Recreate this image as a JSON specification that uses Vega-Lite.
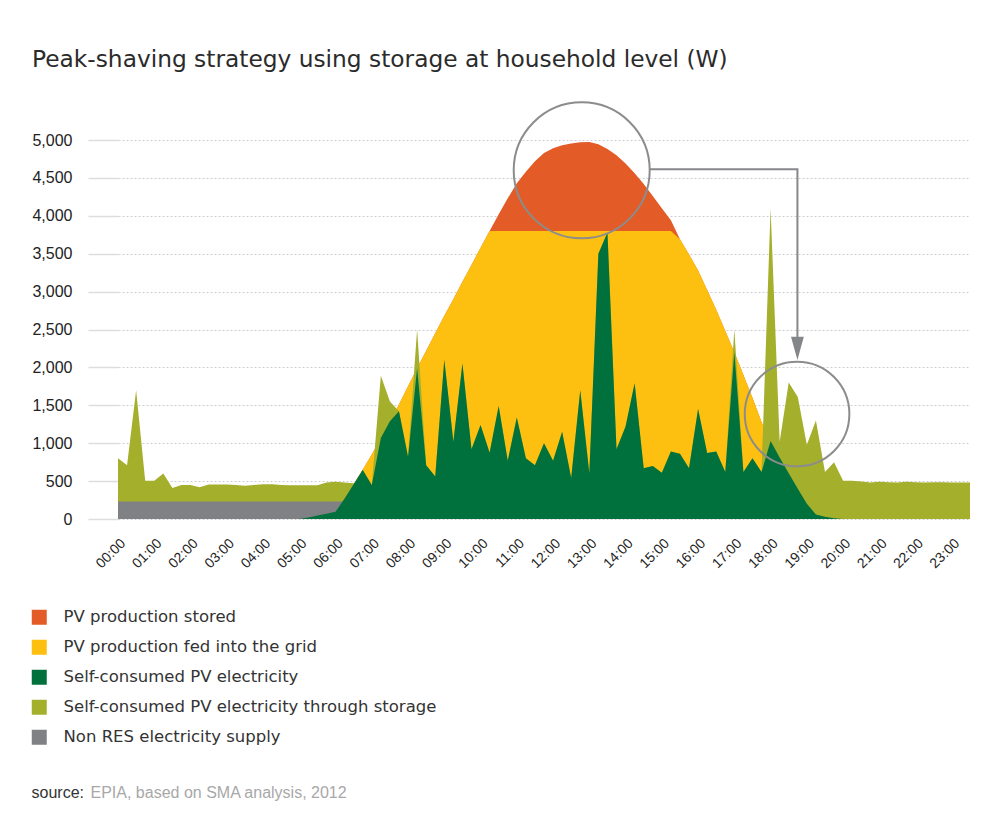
{
"$schema": "https://vega.github.io/schema/vega-lite/v6.json",
"width": 852, "height": 379,
"autosize": {"type": "none"},
"padding": {"left": 118, "top": 140, "right": 30, "bottom": 301},
"background": "white",
"title": {"text": "Peak-shaving strategy using storage at household level (W)", "anchor": "start", "frame": "group", "dx": -86, "offset": 8, "baseline": "alphabetic", "font": "DejaVu Sans", "fontSize": 23.3, "fontWeight": "normal", "color": "#2b2b2b"},
"datasets": {
"d": [
{"t":0,"pv":0,"grid":0,"load":800,"self":0,"nonres":230},
{"t":0.25,"pv":0,"grid":0,"load":710,"self":0,"nonres":230},
{"t":0.5,"pv":0,"grid":0,"load":1700,"self":0,"nonres":230},
{"t":0.75,"pv":0,"grid":0,"load":505,"self":0,"nonres":230},
{"t":1,"pv":0,"grid":0,"load":505,"self":0,"nonres":230},
{"t":1.25,"pv":0,"grid":0,"load":600,"self":0,"nonres":230},
{"t":1.5,"pv":0,"grid":0,"load":410,"self":0,"nonres":230},
{"t":1.75,"pv":0,"grid":0,"load":450,"self":0,"nonres":230},
{"t":2,"pv":0,"grid":0,"load":450,"self":0,"nonres":230},
{"t":2.25,"pv":0,"grid":0,"load":420,"self":0,"nonres":230},
{"t":2.5,"pv":0,"grid":0,"load":455,"self":0,"nonres":230},
{"t":2.75,"pv":0,"grid":0,"load":455,"self":0,"nonres":230},
{"t":3,"pv":0,"grid":0,"load":455,"self":0,"nonres":230},
{"t":3.25,"pv":0,"grid":0,"load":450,"self":0,"nonres":230},
{"t":3.5,"pv":0,"grid":0,"load":440,"self":0,"nonres":230},
{"t":3.75,"pv":0,"grid":0,"load":450,"self":0,"nonres":230},
{"t":4,"pv":0,"grid":0,"load":460,"self":0,"nonres":230},
{"t":4.25,"pv":0,"grid":0,"load":460,"self":0,"nonres":230},
{"t":4.5,"pv":0,"grid":0,"load":450,"self":0,"nonres":230},
{"t":4.75,"pv":0,"grid":0,"load":445,"self":0,"nonres":230},
{"t":5,"pv":0,"grid":0,"load":445,"self":0,"nonres":230},
{"t":5.25,"pv":20,"grid":20,"load":445,"self":20,"nonres":230},
{"t":5.5,"pv":45,"grid":45,"load":445,"self":45,"nonres":230},
{"t":5.75,"pv":70,"grid":70,"load":480,"self":70,"nonres":230},
{"t":6,"pv":95,"grid":95,"load":490,"self":95,"nonres":230},
{"t":6.25,"pv":270,"grid":270,"load":480,"self":270,"nonres":230},
{"t":6.5,"pv":460,"grid":460,"load":470,"self":460,"nonres":0},
{"t":6.75,"pv":650,"grid":650,"load":460,"self":650,"nonres":0},
{"t":7,"pv":850,"grid":850,"load":450,"self":450,"nonres":0},
{"t":7.25,"pv":1070,"grid":1070,"load":1890,"self":1070,"nonres":0},
{"t":7.5,"pv":1290,"grid":1290,"load":1550,"self":1290,"nonres":0},
{"t":7.75,"pv":1510,"grid":1510,"load":1420,"self":1420,"nonres":0},
{"t":8,"pv":1750,"grid":1750,"load":820,"self":820,"nonres":0},
{"t":8.25,"pv":1990,"grid":1990,"load":2500,"self":1990,"nonres":0},
{"t":8.5,"pv":2220,"grid":2220,"load":710,"self":710,"nonres":0},
{"t":8.75,"pv":2450,"grid":2450,"load":560,"self":560,"nonres":0},
{"t":9,"pv":2680,"grid":2680,"load":2100,"self":2100,"nonres":0},
{"t":9.25,"pv":2900,"grid":2900,"load":1020,"self":1020,"nonres":0},
{"t":9.5,"pv":3130,"grid":3130,"load":2050,"self":2050,"nonres":0},
{"t":9.75,"pv":3350,"grid":3350,"load":920,"self":920,"nonres":0},
{"t":10,"pv":3580,"grid":3580,"load":1240,"self":1240,"nonres":0},
{"t":10.25,"pv":3800,"grid":3800,"load":875,"self":875,"nonres":0},
{"t":10.5,"pv":4020,"grid":3800,"load":1490,"self":1490,"nonres":0},
{"t":10.75,"pv":4230,"grid":3800,"load":770,"self":770,"nonres":0},
{"t":11,"pv":4430,"grid":3800,"load":1340,"self":1340,"nonres":0},
{"t":11.25,"pv":4580,"grid":3800,"load":800,"self":800,"nonres":0},
{"t":11.5,"pv":4720,"grid":3800,"load":710,"self":710,"nonres":0},
{"t":11.75,"pv":4830,"grid":3800,"load":1000,"self":1000,"nonres":0},
{"t":12,"pv":4890,"grid":3800,"load":770,"self":770,"nonres":0},
{"t":12.25,"pv":4930,"grid":3800,"load":1150,"self":1150,"nonres":0},
{"t":12.5,"pv":4955,"grid":3800,"load":540,"self":540,"nonres":0},
{"t":12.75,"pv":4970,"grid":3800,"load":1700,"self":1700,"nonres":0},
{"t":13,"pv":4975,"grid":3800,"load":600,"self":600,"nonres":0},
{"t":13.25,"pv":4945,"grid":3800,"load":3500,"self":3500,"nonres":0},
{"t":13.5,"pv":4880,"grid":3800,"load":3780,"self":3780,"nonres":0},
{"t":13.75,"pv":4800,"grid":3800,"load":920,"self":920,"nonres":0},
{"t":14,"pv":4690,"grid":3800,"load":1220,"self":1220,"nonres":0},
{"t":14.25,"pv":4560,"grid":3800,"load":1790,"self":1790,"nonres":0},
{"t":14.5,"pv":4420,"grid":3800,"load":670,"self":670,"nonres":0},
{"t":14.75,"pv":4260,"grid":3800,"load":700,"self":700,"nonres":0},
{"t":15,"pv":4100,"grid":3800,"load":610,"self":610,"nonres":0},
{"t":15.25,"pv":3940,"grid":3800,"load":890,"self":890,"nonres":0},
{"t":15.5,"pv":3690,"grid":3690,"load":860,"self":860,"nonres":0},
{"t":15.75,"pv":3490,"grid":3490,"load":670,"self":670,"nonres":0},
{"t":16,"pv":3280,"grid":3280,"load":1450,"self":1450,"nonres":0},
{"t":16.25,"pv":3020,"grid":3020,"load":870,"self":870,"nonres":0},
{"t":16.5,"pv":2760,"grid":2760,"load":890,"self":890,"nonres":0},
{"t":16.75,"pv":2480,"grid":2480,"load":620,"self":620,"nonres":0},
{"t":17,"pv":2200,"grid":2200,"load":2500,"self":2200,"nonres":0},
{"t":17.25,"pv":1900,"grid":1900,"load":620,"self":620,"nonres":0},
{"t":17.5,"pv":1600,"grid":1600,"load":800,"self":800,"nonres":0},
{"t":17.75,"pv":1280,"grid":1280,"load":620,"self":620,"nonres":0},
{"t":18,"pv":1030,"grid":1030,"load":4100,"self":1030,"nonres":0},
{"t":18.25,"pv":810,"grid":810,"load":1020,"self":810,"nonres":0},
{"t":18.5,"pv":605,"grid":605,"load":1800,"self":605,"nonres":0},
{"t":18.75,"pv":400,"grid":400,"load":1610,"self":400,"nonres":0},
{"t":19,"pv":200,"grid":200,"load":980,"self":200,"nonres":0},
{"t":19.25,"pv":60,"grid":60,"load":1300,"self":60,"nonres":0},
{"t":19.5,"pv":30,"grid":30,"load":620,"self":30,"nonres":0},
{"t":19.75,"pv":10,"grid":10,"load":750,"self":10,"nonres":0},
{"t":20,"pv":0,"grid":0,"load":505,"self":0,"nonres":0},
{"t":20.25,"pv":0,"grid":0,"load":505,"self":0,"nonres":0},
{"t":20.5,"pv":0,"grid":0,"load":495,"self":0,"nonres":0},
{"t":20.75,"pv":0,"grid":0,"load":480,"self":0,"nonres":0},
{"t":21,"pv":0,"grid":0,"load":490,"self":0,"nonres":0},
{"t":21.25,"pv":0,"grid":0,"load":485,"self":0,"nonres":0},
{"t":21.5,"pv":0,"grid":0,"load":480,"self":0,"nonres":0},
{"t":21.75,"pv":0,"grid":0,"load":490,"self":0,"nonres":0},
{"t":22,"pv":0,"grid":0,"load":485,"self":0,"nonres":0},
{"t":22.25,"pv":0,"grid":0,"load":480,"self":0,"nonres":0},
{"t":22.5,"pv":0,"grid":0,"load":485,"self":0,"nonres":0},
{"t":22.75,"pv":0,"grid":0,"load":485,"self":0,"nonres":0},
{"t":23,"pv":0,"grid":0,"load":480,"self":0,"nonres":0},
{"t":23.25,"pv":0,"grid":0,"load":480,"self":0,"nonres":0},
{"t":23.5,"pv":0,"grid":0,"load":480,"self":0,"nonres":0}
],
"arrow": [{"t":14.65,"w":4613,"i":1},{"t":18.74,"w":4613,"i":2},{"t":18.74,"w":2390,"i":3}],
"head": [{"t":18.74,"w":2252}],
"c1": [{"t":12.79,"w":4600}],
"c2": [{"t":18.73,"w":1385}]
},
"layer": [
{"data": {"name": "d"}, "mark": {"type": "area"},
 "encoding": {
  "x": {"field": "t", "type": "quantitative", "scale": {"domain": [0, 23.5], "nice": false, "zero": false},
        "axis": {"values": [0,1,2,3,4,5,6,7,8,9,10,11,12,13,14,15,16,17,18,19,20,21,22,23], "labelExpr": "(datum.value < 10 ? '0' : '') + datum.value + ':00'", "title": "EPIA, based on SMA analysis, 2012"}},
  "y": {"field": "pv", "type": "quantitative", "scale": {"domain": [0, 5000], "nice": false},
        "axis": {"values": [0,500,1000,1500,2000,2500,3000,3500,4000,4500,5000], "format": ",d", "title": "source:"}},
  "color": {"datum": "PV production stored", "type": "nominal",
            "scale": {"domain": ["PV production stored", "PV production fed into the grid", "Self-consumed PV electricity", "Self-consumed PV electricity through storage", "Non RES electricity supply"],
                      "range": ["#E35B26", "#FDC010", "#00703C", "#A4AF2B", "#808184"]}}
 }},
{"data": {"name": "d"}, "mark": {"type": "area"},
 "encoding": {
  "x": {"field": "t", "type": "quantitative", "axis": {"values": [0,1,2,3,4,5,6,7,8,9,10,11,12,13,14,15,16,17,18,19,20,21,22,23], "labelExpr": "(datum.value < 10 ? '0' : '') + datum.value + ':00'", "title": "EPIA, based on SMA analysis, 2012"}},
  "y": {"field": "grid", "type": "quantitative", "axis": {"values": [0,500,1000,1500,2000,2500,3000,3500,4000,4500,5000], "format": ",d", "title": "source:"}},
  "color": {"datum": "PV production fed into the grid", "type": "nominal"}}},
{"data": {"name": "d"}, "mark": {"type": "area"},
 "encoding": {
  "x": {"field": "t", "type": "quantitative", "axis": {"values": [0,1,2,3,4,5,6,7,8,9,10,11,12,13,14,15,16,17,18,19,20,21,22,23], "labelExpr": "(datum.value < 10 ? '0' : '') + datum.value + ':00'", "title": "EPIA, based on SMA analysis, 2012"}},
  "y": {"field": "load", "type": "quantitative", "axis": {"values": [0,500,1000,1500,2000,2500,3000,3500,4000,4500,5000], "format": ",d", "title": "source:"}},
  "color": {"datum": "Self-consumed PV electricity through storage", "type": "nominal"}}},
{"data": {"name": "d"}, "mark": {"type": "area"},
 "encoding": {
  "x": {"field": "t", "type": "quantitative", "axis": {"values": [0,1,2,3,4,5,6,7,8,9,10,11,12,13,14,15,16,17,18,19,20,21,22,23], "labelExpr": "(datum.value < 10 ? '0' : '') + datum.value + ':00'", "title": "EPIA, based on SMA analysis, 2012"}},
  "y": {"field": "nonres", "type": "quantitative", "axis": {"values": [0,500,1000,1500,2000,2500,3000,3500,4000,4500,5000], "format": ",d", "title": "source:"}},
  "color": {"datum": "Non RES electricity supply", "type": "nominal"}}},
{"data": {"name": "d"}, "mark": {"type": "area"},
 "encoding": {
  "x": {"field": "t", "type": "quantitative", "axis": {"values": [0,1,2,3,4,5,6,7,8,9,10,11,12,13,14,15,16,17,18,19,20,21,22,23], "labelExpr": "(datum.value < 10 ? '0' : '') + datum.value + ':00'", "title": "EPIA, based on SMA analysis, 2012"}},
  "y": {"field": "self", "type": "quantitative", "axis": {"values": [0,500,1000,1500,2000,2500,3000,3500,4000,4500,5000], "format": ",d", "title": "source:"}},
  "color": {"datum": "Self-consumed PV electricity", "type": "nominal"}}},
{"data": {"name": "arrow"}, "mark": {"type": "line", "color": "#87888c", "strokeWidth": 2},
 "encoding": {
  "x": {"field": "t", "type": "quantitative", "axis": {"values": [0,1,2,3,4,5,6,7,8,9,10,11,12,13,14,15,16,17,18,19,20,21,22,23], "labelExpr": "(datum.value < 10 ? '0' : '') + datum.value + ':00'", "title": "EPIA, based on SMA analysis, 2012"}},
  "y": {"field": "w", "type": "quantitative", "axis": {"values": [0,500,1000,1500,2000,2500,3000,3500,4000,4500,5000], "format": ",d", "title": "source:"}},
  "order": {"field": "i", "type": "quantitative"}}},
{"data": {"name": "head"}, "mark": {"type": "point", "shape": "M-0.55,-1L0.55,-1L0,1Z", "filled": true, "color": "#85868a", "size": 543, "opacity": 1, "strokeWidth": 0},
 "encoding": {
  "x": {"field": "t", "type": "quantitative", "axis": {"values": [0,1,2,3,4,5,6,7,8,9,10,11,12,13,14,15,16,17,18,19,20,21,22,23], "labelExpr": "(datum.value < 10 ? '0' : '') + datum.value + ':00'", "title": "EPIA, based on SMA analysis, 2012"}},
  "y": {"field": "w", "type": "quantitative", "axis": {"values": [0,500,1000,1500,2000,2500,3000,3500,4000,4500,5000], "format": ",d", "title": "source:"}}}},
{"data": {"name": "c1"}, "mark": {"type": "point", "shape": "circle", "filled": false, "color": "#8c8c8c", "size": 18496, "opacity": 1, "strokeWidth": 2},
 "encoding": {
  "x": {"field": "t", "type": "quantitative", "axis": {"values": [0,1,2,3,4,5,6,7,8,9,10,11,12,13,14,15,16,17,18,19,20,21,22,23], "labelExpr": "(datum.value < 10 ? '0' : '') + datum.value + ':00'", "title": "EPIA, based on SMA analysis, 2012"}},
  "y": {"field": "w", "type": "quantitative", "axis": {"values": [0,500,1000,1500,2000,2500,3000,3500,4000,4500,5000], "format": ",d", "title": "source:"}}}},
{"data": {"name": "c2"}, "mark": {"type": "point", "shape": "circle", "filled": false, "color": "#8c8c8c", "size": 10941, "opacity": 1, "strokeWidth": 2},
 "encoding": {
  "x": {"field": "t", "type": "quantitative", "axis": {"values": [0,1,2,3,4,5,6,7,8,9,10,11,12,13,14,15,16,17,18,19,20,21,22,23], "labelExpr": "(datum.value < 10 ? '0' : '') + datum.value + ':00'", "title": "EPIA, based on SMA analysis, 2012"}},
  "y": {"field": "w", "type": "quantitative", "axis": {"values": [0,500,1000,1500,2000,2500,3000,3500,4000,4500,5000], "format": ",d", "title": "source:"}}}}
],
"config": {
 "font": "Liberation Sans",
 "view": {"stroke": null},
 "axis": {"labelFont": "Liberation Sans", "titleFont": "Liberation Sans"},
 "axisX": {"labelAngle": -45, "labelAlign": "right", "labelBaseline": "top", "labelFontSize": 14, "labelColor": "#222222",
           "labelPadding": 17, "labelOverlap": false, "labelFlush": false, "ticks": false, "domain": false, "grid": false,
           "titleX": -28, "titleY": 278, "titleAngle": 0, "titleAlign": "left", "titleBaseline": "alphabetic",
           "titleFontSize": 16, "titleFontWeight": "normal", "titleColor": "#a8a8a8"},
 "axisY": {"labelFontSize": 16, "labelColor": "#222222", "labelPadding": 16, "tickSize": 30, "tickColor": "#dddddd", "tickWidth": 1.5,
           "labelOverlap": false, "domain": false, "grid": true, "gridColor": "#cfcfcf", "gridDash": [2, 2], "gridWidth": 1,
           "titleX": -87, "titleY": 657, "titleAngle": 0, "titleAlign": "left", "titleBaseline": "alphabetic",
           "titleFontSize": 16, "titleFontWeight": "normal", "titleColor": "#333333"},
 "legend": {"orient": "none", "legendX": -87, "legendY": 469, "title": null, "padding": 0,
            "symbolType": "square", "symbolSize": 225, "symbolStrokeWidth": 0, "symbolOpacity": 1,
            "labelFont": "DejaVu Sans", "labelFontSize": 16.5, "labelColor": "#333333", "labelOffset": 16, "labelLimit": 0,
            "rowPadding": 13}
}
}
